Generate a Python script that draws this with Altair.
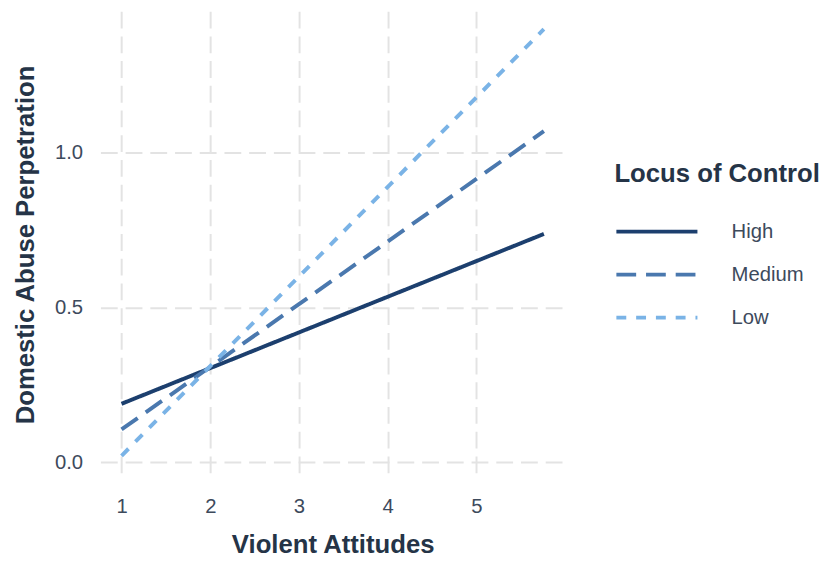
import altair as alt
import pandas as pd

groups = ["High", "Medium", "Low"]
x_start = [1.0, 1.0, 1.0]
x_end = [5.76, 5.76, 5.76]
y_start = [0.189, 0.106, 0.021]
y_end = [0.738, 1.070, 1.400]

rows = []
for g, xs, xe, ys, ye in zip(groups, x_start, x_end, y_start, y_end):
    rows.append({"x": xs, "y": ys, "group": g})
    rows.append({"x": xe, "y": ye, "group": g})
df = pd.DataFrame(rows)

colors = ["#1c3f6e", "#4a78ae", "#7ab3e6"]
dashes = [[1, 0], [20, 10], [10, 10]]
FONT = "Liberation Sans"
TITLE_COLOR = "#253447"
LABEL_COLOR = "#3d4a5c"
GRID_COLOR = "#e3e3e3"

chart = alt.Chart(df).mark_line(strokeWidth=4, strokeCap="butt").encode(
    x=alt.X("x:Q", title="Violent Attitudes",
            scale=alt.Scale(domain=[0.762, 5.998], nice=False, zero=False),
            axis=alt.Axis(values=[1, 2, 3, 4, 5], format="d", labelPadding=19, titlePadding=15)),
    y=alt.Y("y:Q", title="Domestic Abuse Perpetration",
            scale=alt.Scale(domain=[-0.05, 1.458], nice=False, zero=False),
            axis=alt.Axis(values=[0.0, 0.5, 1.0], format=".1f", labelPadding=18, titlePadding=16.5)),
    color=alt.Color("group:N", title="Locus of Control", sort=groups,
                    scale=alt.Scale(domain=groups, range=colors)),
    strokeDash=alt.StrokeDash("group:N", title="Locus of Control", sort=groups,
                              scale=alt.Scale(domain=groups, range=dashes)),
    detail="group:N",
).properties(
    width=470, height=472,
    padding={"left": 4.5, "top": 0, "right": 0, "bottom": 0},
).configure_view(
    stroke=None
).configure_axis(
    domain=False, ticks=False, tickSize=0,
    grid=True, gridColor=GRID_COLOR, gridDash=[17, 8], gridWidth=2,
    labelFont=FONT, labelFontSize=20.5, labelColor=LABEL_COLOR,
    titleFont=FONT, titleFontSize=26, titleFontWeight="bold", titleColor=TITLE_COLOR,
).configure_legend(
    orient="none", legendX=520, legendY=152,
    titleFont=FONT, titleFontSize=26, titleFontWeight="bold", titleColor=TITLE_COLOR,
    titlePadding=35, titleLimit=400,
    labelFont=FONT, labelFontSize=20.5, labelColor=LABEL_COLOR, labelOffset=32.5,
    symbolType="stroke", symbolSize=6724, symbolStrokeWidth=4,
    clipHeight=20, rowPadding=22.5,
)

chart.save("out.html", embed_options={"renderer": "svg", "actions": False})
